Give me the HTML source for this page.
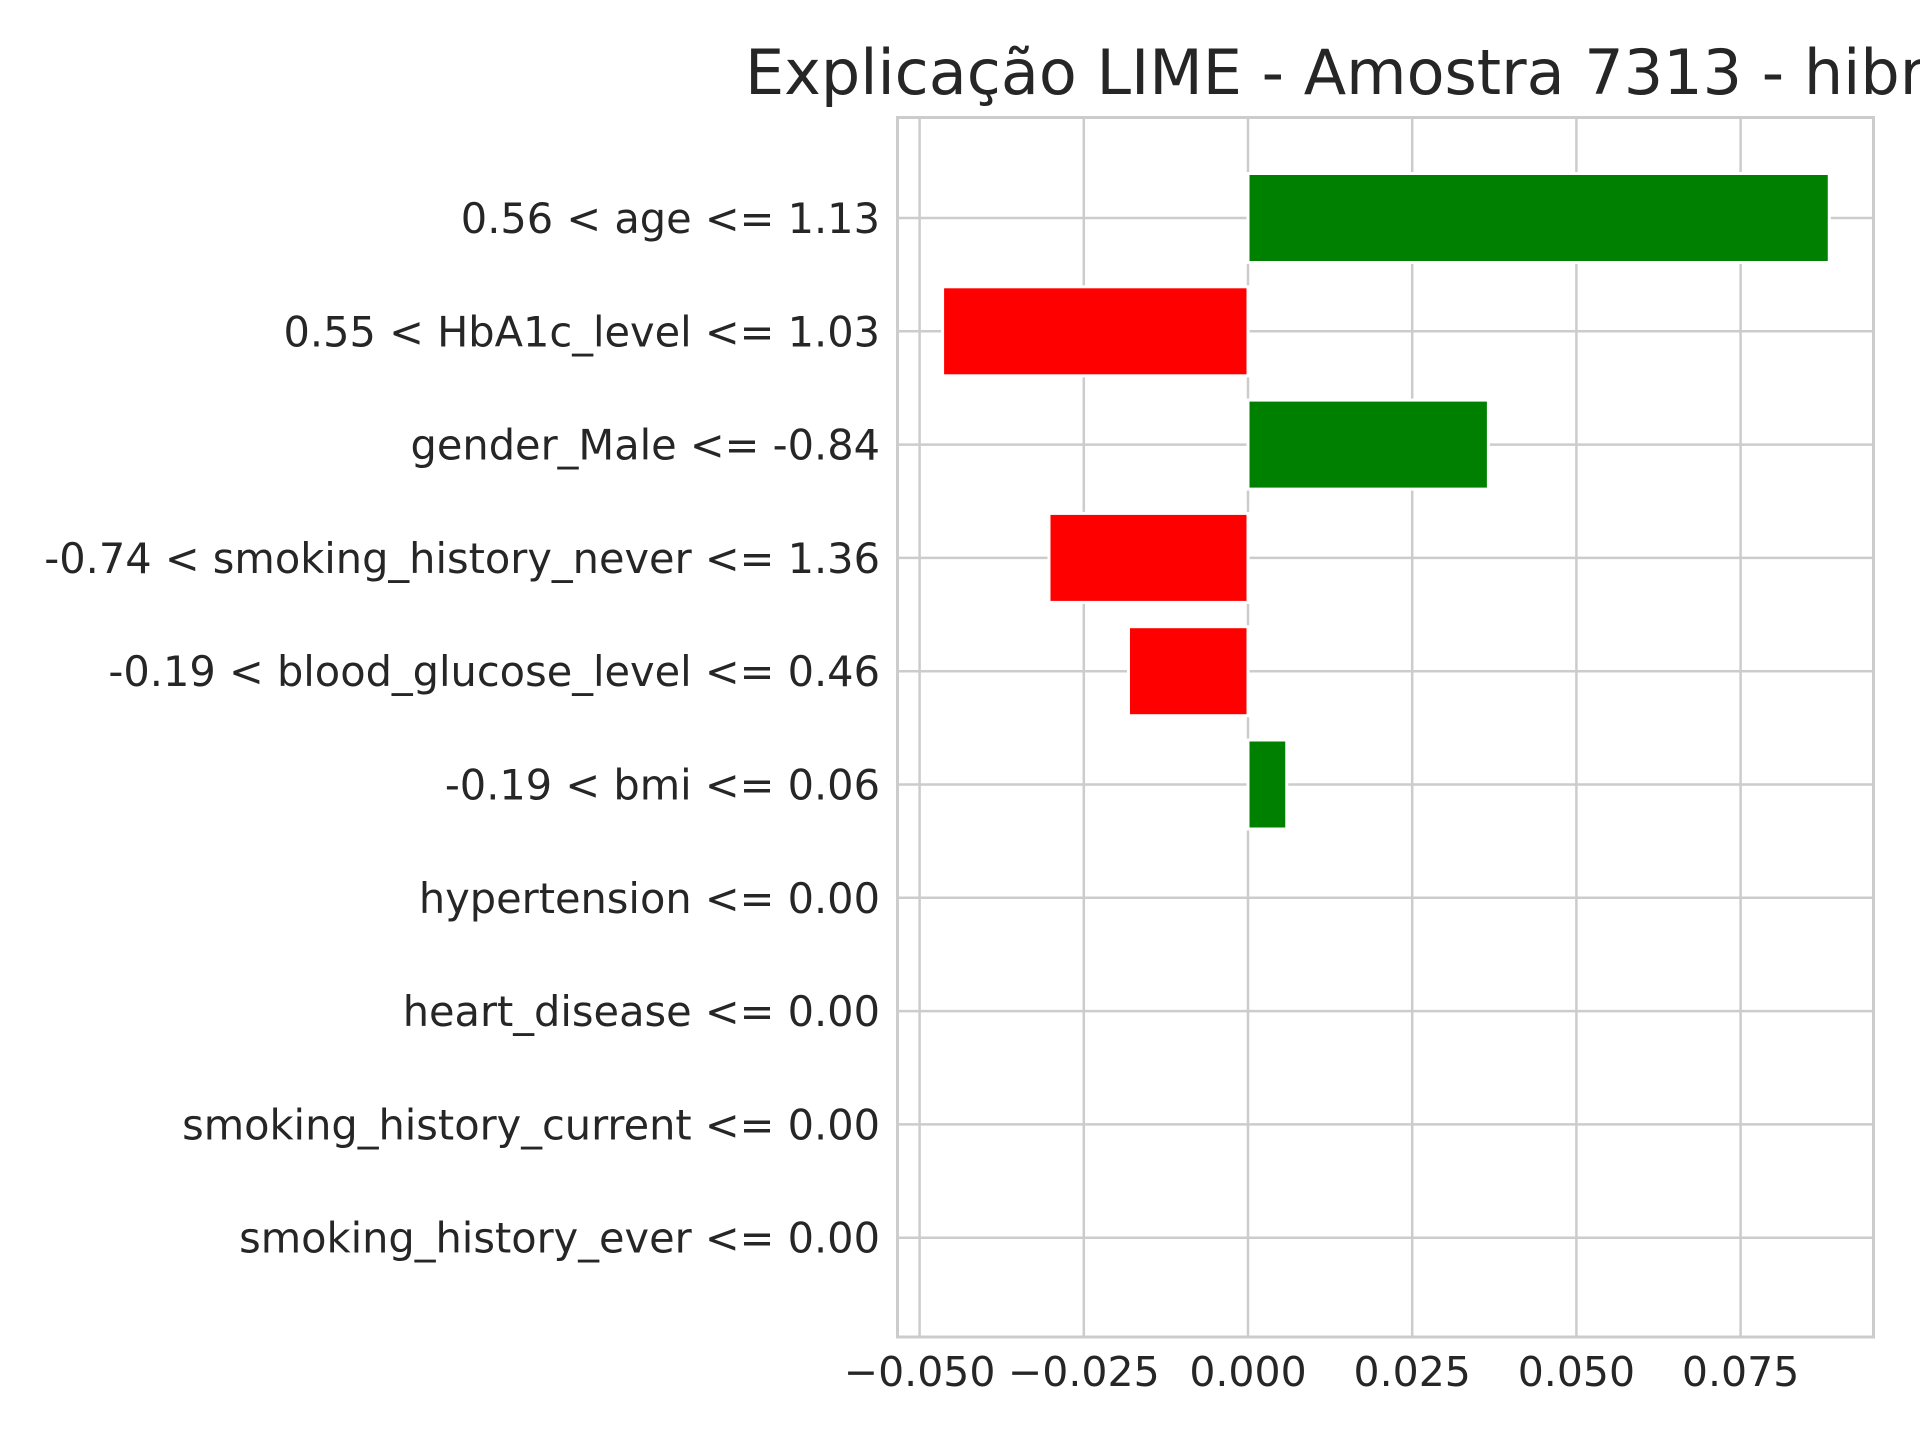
<!DOCTYPE html>
<html><head><meta charset="utf-8"><style>
html,body{margin:0;padding:0;background:#fff;}
svg{display:block;font-family:"DejaVu Sans","Liberation Sans",sans-serif;}
</style></head><body>
<svg id="chart" width="1920" height="1440" viewBox="0 0 1920 1440" xmlns="http://www.w3.org/2000/svg">
<text x="745" y="94" font-size="62" fill="#262626">Explicação LIME - Amostra 7313 - hibrido</text>
<g id="grid"></g><g id="bars"></g><g id="ylabels"></g><g id="xlabels"></g>
<rect x="897.5" y="117.5" width="976" height="1219.5" fill="none" stroke="#cccccc" stroke-width="3"/>
</svg>
<script>
const categories = ["0.56 < age <= 1.13","0.55 < HbA1c_level <= 1.03","gender_Male <= -0.84","-0.74 < smoking_history_never <= 1.36","-0.19 < blood_glucose_level <= 0.46","-0.19 < bmi <= 0.06","hypertension <= 0.00","heart_disease <= 0.00","smoking_history_current <= 0.00","smoking_history_ever <= 0.00"];
const values = [0.0885,-0.0465,0.0366,-0.0303,-0.0182,0.0059,0,0,0,0];
const xTicks = [-0.05,-0.025,0,0.025,0.05,0.075];
const xTickLabels = ["\u22120.050","\u22120.025","0.000","0.025","0.050","0.075"];
const NS="http://www.w3.org/2000/svg";
const x = v => 1248 + v*6568;
const y = i => 218 + i*113.3;
function mk(tag, attrs, parent){const e=document.createElementNS(NS,tag);for(const k in attrs)e.setAttribute(k,attrs[k]);document.getElementById(parent).appendChild(e);return e;}
xTicks.forEach((t,i)=>{
  const l=mk('line',{x1:x(t),x2:x(t),y1:117.5,y2:1337,stroke:'#cccccc','stroke-width':2.5},'grid');
  
  
  const tx=mk('text',{x:x(t),y:1386,'font-size':41,fill:'#262626','text-anchor':'middle'},'xlabels');
  tx.textContent=xTickLabels[i];
  
  
});
categories.forEach((c,i)=>{
  const l=mk('line',{x1:897.5,x2:1873.5,y1:y(i),y2:y(i),stroke:'#cccccc','stroke-width':2.5},'grid');
  
  
  const t=mk('text',{x:880,y:y(i)+15,'font-size':41.5,fill:'#262626','text-anchor':'end'},'ylabels');
  t.textContent=c;
  
  
  const v=values[i];
  const h=89;
  const r=mk('rect',{x:Math.min(x(0),x(v)),y:y(i)-h/2,width:Math.abs(x(v)-x(0)),height:h,fill:v>0?'#008000':'#ff0000',stroke:'#ffffff','stroke-width':3},'bars');
  
  
});
</script>
</body></html>
